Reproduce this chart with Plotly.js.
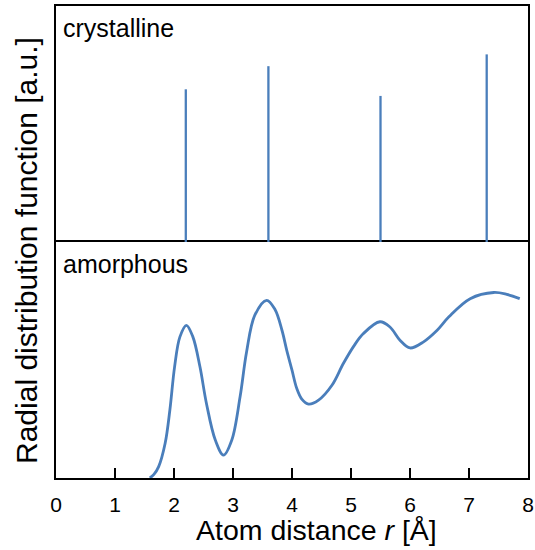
<!DOCTYPE html>
<html>
<head>
<meta charset="utf-8">
<script src="https://cdn.plot.ly/plotly-3.0.1.min.js"></script>
<style>html,body{margin:0;padding:0;background:#fff;}#chart{width:535px;height:550px;}</style>
</head>
<body>
<div id="chart"></div>
<script>
// Crystalline: discrete peaks
const crystR = [2.2, 3.6, 5.5, 7.3];
const crystH = [0.647, 0.745, 0.619, 0.795];
// Amorphous: continuous RDF
const amorR = [1.59, 1.66, 1.74, 1.85, 1.93, 2.01, 2.10, 2.21, 2.32, 2.44, 2.55, 2.70, 2.84, 2.98, 3.12, 3.23, 3.37, 3.57, 3.71, 3.83, 3.91, 4.00, 4.08, 4.17, 4.28, 4.45, 4.68, 4.87, 5.05, 5.21, 5.49, 5.66, 5.83, 6.00, 6.23, 6.46, 6.66, 7.02, 7.42, 7.64, 7.86];
const amorV = [0, 0.015, 0.048, 0.147, 0.288, 0.471, 0.598, 0.647, 0.598, 0.471, 0.316, 0.161, 0.097, 0.161, 0.344, 0.534, 0.690, 0.753, 0.715, 0.626, 0.542, 0.457, 0.380, 0.333, 0.313, 0.330, 0.394, 0.485, 0.560, 0.612, 0.662, 0.640, 0.584, 0.551, 0.577, 0.626, 0.683, 0.760, 0.786, 0.778, 0.760];
const xTicks = [0, 1, 2, 3, 4, 5, 6, 7, 8];
const panelLabels = ["crystalline", "amorphous"];
const xTitle = "Atom distance <i>r</i> [Å]";
const yTitle = "Radial distribution function [a.u.]";

const blue = "#4a7ebb";
const sx = [], sy = [];
crystR.forEach((r, i) => { sx.push(r, r, null); sy.push(0, crystH[i], null); });

const traces = [
  {x: sx, y: sy, xaxis: "x2", yaxis: "y2", mode: "lines", line: {color: blue, width: 2.3}, hoverinfo: "skip"},
  {x: amorR, y: amorV, xaxis: "x", yaxis: "y", mode: "lines", line: {color: blue, width: 2.8, shape: "spline", smoothing: 1}}
];

const L = 56, T = 6, W = 472, H = 472;
const px = v => (v - L) / W;
const py = v => (T + H - v) / H;
const font = "Liberation Sans, Arial, sans-serif";

const layout = {
  width: 535, height: 550,
  margin: {l: L, r: 535 - L - W, t: T, b: 550 - T - H},
  showlegend: false,
  paper_bgcolor: "#fff", plot_bgcolor: "#fff",
  font: {family: font, color: "#000"},
  xaxis: {domain: [0, 1], range: [0, 8], anchor: "y", tickvals: xTicks, ticks: "inside", ticklen: 10, tickwidth: 2, tickcolor: "#000",
          showline: true, linecolor: "#000", linewidth: 2, mirror: true, showgrid: false, zeroline: false,
          tickfont: {size: 21, family: font}, ticklabelstandoff: 7},
  yaxis: {domain: [0, 0.5], range: [0, 1], anchor: "x", showticklabels: false, ticks: "", showline: true, linecolor: "#000", linewidth: 2, mirror: true, showgrid: false, zeroline: false},
  xaxis2: {domain: [0, 1], range: [0, 8], anchor: "y2", side: "top", showticklabels: false, ticks: "", showline: true, linecolor: "#000", linewidth: 2, mirror: false, showgrid: false, zeroline: false},
  yaxis2: {domain: [0.5, 1], range: [0, 1], anchor: "x2", showticklabels: false, ticks: "", showline: true, linecolor: "#000", linewidth: 2, mirror: true, showgrid: false, zeroline: false},
  annotations: [
    {text: panelLabels[0], xref: "paper", yref: "paper", x: px(61), y: py(28), xanchor: "left", yanchor: "middle", showarrow: false, font: {size: 25, family: font}},
    {text: panelLabels[1], xref: "paper", yref: "paper", x: px(61), y: py(264), xanchor: "left", yanchor: "middle", showarrow: false, font: {size: 25, family: font}},
    {text: xTitle, xref: "paper", yref: "paper", x: px(316), y: py(530), xanchor: "center", yanchor: "middle", showarrow: false, font: {size: 28.5, family: font}},
    {text: yTitle, xref: "paper", yref: "paper", x: px(26), y: py(251), xanchor: "center", yanchor: "middle", textangle: -90, showarrow: false, font: {size: 30, family: font}}
  ]
};

Plotly.newPlot("chart", traces, layout, {staticPlot: true, displayModeBar: false});
</script>
</body>
</html>
